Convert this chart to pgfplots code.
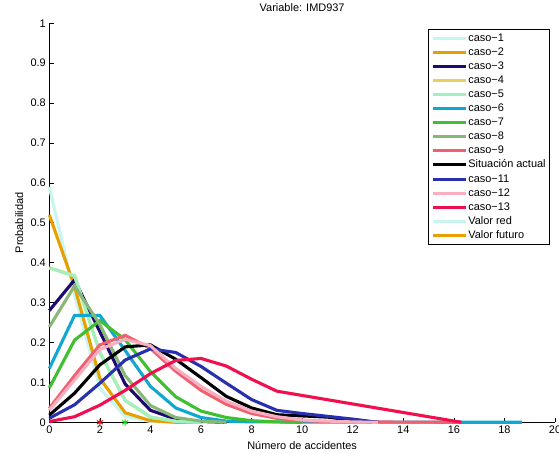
\documentclass[border=0pt]{standalone}
\usepackage{fontspec}
\setmainfont{Liberation Sans}
\usepackage{pgfplots}
\pgfplotsset{compat=1.18}
\definecolor{c1}{RGB}{200,245,240}
\definecolor{c2}{RGB}{232,160,0}
\definecolor{c3}{RGB}{30,10,110}
\definecolor{c4}{RGB}{232,208,96}
\definecolor{c5}{RGB}{160,240,192}
\definecolor{c6}{RGB}{16,168,208}
\definecolor{c7}{RGB}{64,192,48}
\definecolor{c8}{RGB}{136,184,120}
\definecolor{c9}{RGB}{240,96,112}
\definecolor{c11}{RGB}{40,48,176}
\definecolor{c12}{RGB}{248,176,192}
\definecolor{c13}{RGB}{240,16,80}
\begin{document}
\begin{tikzpicture}[font=\fontsize{11}{13}\selectfont]
\begin{axis}[
  scale only axis, width=505.7bp, height=399bp,
  xmin=0, xmax=20, ymin=0, ymax=1,
  axis lines=left, axis line style={-, line width=0.6bp},
  tick align=inside, major tick length=4.5bp,
  tick style={line width=0.6bp, black},
  xtick={0,2,4,6,8,10,12,14,16,18,20},
  ytick={0,0.1,0.2,0.3,0.4,0.5,0.6,0.7,0.8,0.9,1},
  /pgf/number format/assume math mode=true,
  tick label style={font=\fontsize{11}{13}\selectfont},
  clip=false,
  title={Variable: IMD937},
  title style={at={(axis description cs:0.5,1.014)}, anchor=base},
  xlabel={Número de accidentes},
  xlabel style={at={(axis description cs:0.5,-0.0694)}, anchor=base},
  ylabel={Probabilidad},
  ylabel style={at={(axis description cs:-0.0593,0.5)}, anchor=center},
  every axis plot/.append style={line width=3.1bp},
  legend image code/.code={\draw[#1,line width=3bp] (0bp,0bp) -- (33bp,0bp);},
  legend cell align=left,
  legend style={at={(axis description cs:0.990,0.985)}, anchor=north east,
    draw=black, line width=0.6bp, font=\fontsize{11}{13}\selectfont,
    inner xsep=3bp, inner ysep=2bp, row sep=1.1bp,
    nodes={inner sep=1bp, text height=8.5bp, text depth=2.5bp}},
  legend entries={caso−1,caso−2,caso−3,caso−4,caso−5,caso−6,caso−7,caso−8,caso−9,Situación actual,caso−11,caso−12,caso−13,Valor red,Valor futuro},
]
\addplot[c1] coordinates {(0,0.59) (1,0.32) (2,0.085) (3,0.015) (4,0.002) (5,0) (6,0)};
\addplot[c2] coordinates {(0,0.52) (1,0.34) (2,0.11) (3,0.024) (4,0.004) (5,0) (6,0)};
\addplot[c3] coordinates {(0,0.28) (1,0.357) (2,0.227) (3,0.096) (4,0.030) (5,0.008) (6,0.002) (7,0)};
\addplot[c4] coordinates {(0,0.387) (1,0.367) (2,0.175) (3,0.055) (4,0.013) (5,0.0025) (6,0)};
\addplot[c5] coordinates {(0,0.387) (1,0.367) (2,0.175) (3,0.055) (4,0.013) (5,0.0025) (6,0)};
\addplot[c6] coordinates {(0,0.135) (1,0.268) (2,0.268) (3,0.180) (4,0.090) (5,0.036) (6,0.012) (7,0.003) (8,0.001) (18.7,0)};
\addplot[c7] coordinates {(0,0.086) (1,0.206) (2,0.255) (3,0.207) (4,0.127) (5,0.064) (6,0.028) (7,0.012) (8,0.004) (9,0.001) (10,0)};
\addplot[c8] coordinates {(0,0.239) (1,0.342) (2,0.245) (3,0.117) (4,0.042) (5,0.012) (6,0.003) (7,0)};
\addplot[c9] coordinates {(0,0.035) (1,0.117) (2,0.194) (3,0.218) (4,0.185) (5,0.128) (6,0.080) (7,0.045) (8,0.022) (9,0.010) (10,0.004) (11,0.002) (12,0.001) (16.3,0)};
\addplot[black] coordinates {(0,0.018) (1,0.073) (2,0.144) (3,0.189) (4,0.194) (5,0.158) (6,0.112) (7,0.065) (8,0.036) (9,0.019) (10,0.016) (11,0.013) (12,0.005) (13,0)};
\addplot[c11] coordinates {(0,0.010) (1,0.044) (2,0.098) (3,0.156) (4,0.184) (5,0.175) (6,0.140) (7,0.098) (8,0.057) (9,0.030) (10,0.022) (11,0.015) (12,0.008) (13,0)};
\addplot[c12] coordinates {(0,0.030) (1,0.106) (2,0.183) (3,0.208) (4,0.192) (5,0.135) (6,0.090) (7,0.053) (8,0.028) (9,0.014) (10,0.006) (11,0.003) (12,0.001) (13,0)};
\addplot[c13] coordinates {(0,0.002) (1,0.014) (2,0.043) (3,0.080) (4,0.122) (5,0.155) (6,0.160) (7,0.141) (8,0.108) (9,0.078) (16.3,0)};
\addlegendimage{c1}
\addlegendimage{c2}
\addplot[forget plot, only marks, mark=asterisk, mark size=3.5bp, red, line width=1bp] coordinates {(2,0)};
\addplot[forget plot, only marks, mark=asterisk, mark size=3.5bp, green!90!black, line width=1bp] coordinates {(3,0)};
\end{axis}
\pgfresetboundingbox
\path (-49.3bp,-31.7bp) rectangle (509.7bp,422.3bp);
\end{tikzpicture}
\end{document}
